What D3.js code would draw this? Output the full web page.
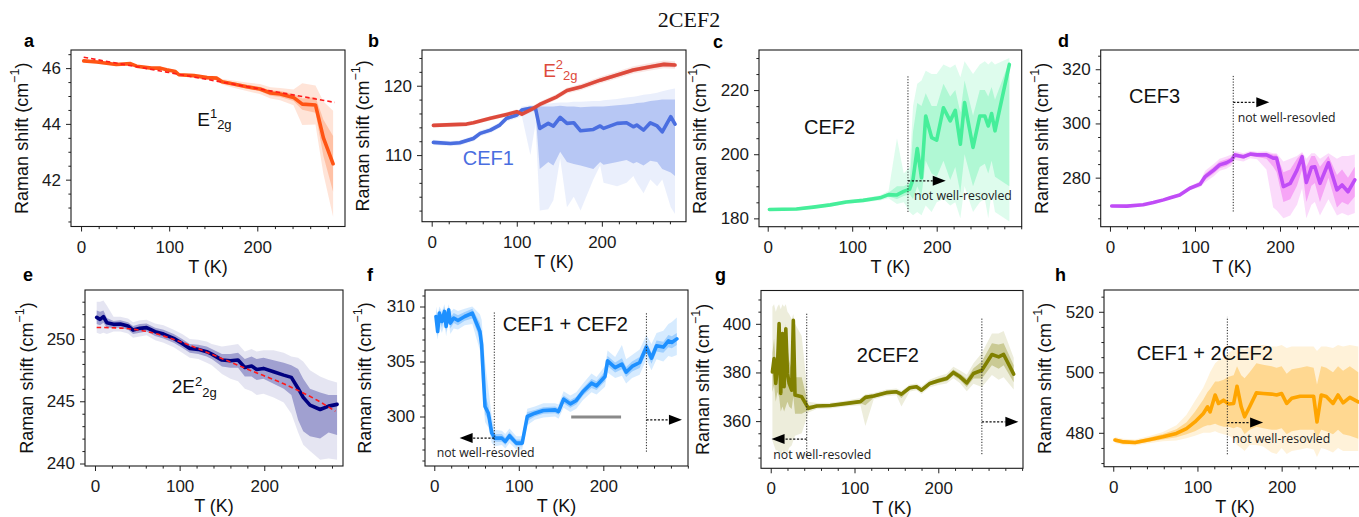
<!DOCTYPE html>
<html><head><meta charset="utf-8">
<script src="https://cdn.jsdelivr.net/npm/d3@7"></script>
<style>body{margin:0;background:#fff}svg{display:block}</style>
</head><body>
<svg id="chart" width="1359" height="517"></svg>
<script>
// ---------------- DATA ----------------
const title = "2CEF2";
const xMajorTicks = [0, 100, 200];
const xMinorStep = 20;

// a : E1_2g
const aT = [3,18,40,56,63,80,90,97,107,111,128,143,154,160,173,188,203,215,226,241,251,266,275,286];
const aV = [46.26,46.22,46.13,46.16,46.07,46.0,46.0,45.94,45.88,45.76,45.73,45.66,45.64,45.51,45.43,45.33,45.25,45.11,45.07,44.95,44.71,44.68,43.5,42.57];
const aInDev = [.03,.03,.03,.03,.03,.03,.03,.03,.03,.03,.03,.03,.04,.05,.06,.07,.08,.1,.11,.13,.2,.28,.65,1.0];
const aOutDev = [.05,.05,.05,.05,.05,.05,.05,.05,.05,.05,.07,.07,.08,.1,.13,.15,.18,.2,.22,.28,.75,.7,1.3,1.9];
const aFitT = [3,100,200,288];
const aFitV = [46.39,45.84,45.27,44.77];

// b : E2_2g (red) and CEF1 (blue)
const bRedT = [2,41,49,69,88,100,106,116,127,147,159,175,198,218,237,257,273,286];
const bRedV = [114.28,114.47,114.66,115.3,115.87,116.25,115.9,116.5,117.3,118.4,119.3,119.8,120.8,121.54,122.27,122.74,123.08,122.98];
const bRedInDev = [.15,.15,.15,.15,.15,.18,.18,.2,.2,.2,.22,.22,.25,.25,.28,.3,.3,.3];
const bRedOutDev = [.3,.3,.3,.3,.3,.35,.35,.4,.4,.4,.42,.45,.48,.5,.52,.55,.55,.55];
const bBlueT = [2,22,33,49,57,69,80,88,100,106,116,122,127,137,143,151,159,167,175,190,198,202,218,229,237,241,249,257,265,271,281,286];
const bBlueV = [111.83,111.68,111.78,112.4,113.13,113.6,114.33,115.3,115.77,116.5,116.74,116.74,113.85,114.57,114.18,115.44,114.57,114.66,113.5,113.7,114.2,113.85,114.57,114.66,114.08,114.33,113.6,114.66,114.2,113.36,115.53,114.47];
const bBlueInLo = [111.6,111.45,111.55,112.15,112.9,113.35,114.1,115.05,115.5,116.2,116.4,116.3,108.0,109.0,108.5,110.5,109.0,108.7,108.5,108.0,109.0,108.6,109.0,109.3,108.8,109.0,108.5,109.2,109.0,108.0,107.5,107.0];
const bBlueInHi = [112.05,111.9,112.0,112.65,113.35,113.85,114.55,115.55,116.05,116.8,117.0,117.0,117.0,117.0,117.0,117.1,117.0,117.0,116.9,117.0,117.0,117.0,117.2,117.3,117.4,117.5,117.6,117.8,117.9,118.0,118.0,118.0];
const bBlueOutLo = [111.45,111.3,111.4,112.0,112.7,113.2,113.9,114.85,115.3,115.6,110.0,114.5,102.0,102.2,103.5,109.5,102.5,104.0,102.0,106.5,108.5,106.0,105.5,106.0,107.0,106.0,104.5,106.5,105.5,106.5,102.5,101.5];
const bBlueOutHi = [112.2,112.05,112.15,112.8,113.55,114.0,114.75,115.75,116.25,117.0,117.2,117.2,117.3,117.4,117.5,117.6,117.6,117.7,117.7,117.8,117.8,117.9,118.1,118.3,118.4,118.5,118.7,118.8,119.0,119.2,119.5,119.6];

// c : CEF2
const cT = [2,34,54,74,93,113,133,143,153,161,168,172,177,182,187,194,200,208,216,222,228,233,243,251,257,261,265,269,286];
const cV = [182.77,182.9,183.5,184.2,185.1,185.6,186.4,187.4,187.3,188.4,189.1,192.2,201.8,192.7,211.9,205.2,204.4,214.5,210.4,213.7,203.1,216.1,202.1,211.9,211.9,208.8,212.7,207.3,228.0];
const cInLo = [182.5,182.6,183.2,183.9,184.8,185.3,186.0,186.8,186.0,187.0,187.5,186.0,190.0,187.0,198.0,194.0,193.0,198.0,192.0,196.0,188.0,200.0,190.0,196.0,197.0,194.0,198.0,193.0,190.0];
const cInHi = [183.05,183.2,183.8,184.5,185.4,185.9,186.8,188.0,190.0,190.0,191.0,207.0,216.0,215.0,219.0,215.0,215.0,222.0,218.0,220.0,213.0,223.0,212.0,220.0,220.0,218.0,221.0,217.0,229.0];
const cOutLo = [182.3,182.4,183.0,183.7,184.5,185.0,185.6,186.3,184.5,185.0,182.0,181.0,182.0,181.0,184.0,182.0,185.0,186.0,184.0,185.0,180.0,190.0,182.0,185.0,186.0,180.0,188.0,182.0,179.0];
const cOutHi = [183.25,183.4,184.0,184.7,185.7,186.2,187.2,188.5,205.0,194.0,196.0,215.0,222.0,223.0,226.0,225.0,225.0,228.0,227.0,228.0,224.0,229.0,225.0,228.0,229.0,228.0,229.0,228.0,230.0];

// d : CEF3
const dT = [2,20,39,51,63,71,82,94,106,112,122,129,137,143,147,157,165,173,184,192,196,204,212,220,226,231,237,241,247,257,267,273,280,288];
const dV = [269.56,269.5,270.0,270.8,271.8,272.6,273.6,276.1,277.6,280.4,282.8,284.7,285.5,286.5,288.4,287.7,288.7,288.4,288.4,287.2,287.2,276.7,277.9,282.8,287.7,278.2,283.8,284.0,277.9,285.5,275.5,277.3,274.8,279.2];
const dInLo = [269.3,269.25,269.7,270.5,271.5,272.3,273.3,275.7,277.0,279.2,281.5,283.5,284.3,285.5,287.5,287.0,288.0,287.6,287.0,284.0,282.0,271.0,272.0,277.0,283.0,271.0,277.0,278.0,271.0,280.0,269.0,271.0,270.0,273.0];
const dInHi = [269.8,269.75,270.3,271.1,272.1,272.9,273.9,276.5,278.3,281.5,284.0,286.0,286.8,287.5,289.2,288.4,289.3,289.1,289.2,288.5,288.5,282.0,283.0,287.0,289.0,284.0,288.0,288.0,284.0,288.0,281.0,283.0,280.0,284.0];
const dOutLo = [269.1,269.0,269.5,270.3,271.3,272.0,273.0,275.4,276.5,278.3,280.5,282.5,283.3,284.5,286.5,286.0,287.2,286.8,283.0,269.0,268.0,265.0,266.0,270.0,276.0,265.0,270.0,271.0,266.0,272.0,266.0,267.0,266.0,267.0];
const dOutHi = [270.0,270.0,270.5,271.3,272.3,273.2,274.2,276.8,278.8,282.5,285.0,287.0,287.8,288.5,289.8,289.0,289.8,289.6,289.7,289.0,289.0,286.0,287.0,288.0,289.5,287.0,289.0,289.0,287.0,289.0,287.0,288.0,288.0,288.5];

// e : 2E2_2g
const eT = [2,6,10,14,22,30,39,45,53,61,71,81,93,103,112,122,132,138,150,160,169,177,185,191,199,211,223,232,240,246,254,266,276,286];
const eV = [251.74,251.58,251.8,251.31,251.18,251.21,251.05,250.72,250.86,250.92,250.59,250.4,250.05,249.65,249.25,249.17,248.98,248.79,248.31,248.26,248.31,247.72,247.83,247.56,247.64,247.37,247.1,246.92,246.03,245.31,244.69,244.34,244.61,244.75];
const eInLo = [251.2,251.1,251.3,250.9,250.9,250.9,250.75,250.4,250.5,250.6,250.25,250.05,249.7,249.3,248.9,248.8,248.6,248.4,247.8,247.7,247.7,247.0,247.0,246.7,246.8,246.4,246.0,245.5,243.5,242.6,242.2,242.0,242.5,242.3];
const eInHi = [252.3,252.2,252.3,251.7,251.45,251.5,251.35,251.05,251.2,251.25,250.9,250.75,250.4,250.0,249.6,249.55,249.4,249.2,248.8,248.8,248.9,248.4,248.6,248.4,248.5,248.3,248.1,247.9,247.6,246.8,246.0,245.7,245.5,245.5];
const eOutLo = [250.5,250.4,250.5,250.4,250.6,250.6,250.45,250.1,250.2,250.3,249.9,249.7,249.35,248.9,248.5,248.4,248.1,247.9,247.2,246.8,246.6,246.0,245.8,245.5,245.6,245.3,244.9,244.0,242.5,241.5,241.0,240.3,240.4,240.3];
const eOutHi = [253.0,253.0,253.1,252.7,251.8,251.8,251.65,251.35,251.5,251.55,251.25,251.1,250.75,250.4,250.0,249.95,249.8,249.6,249.4,249.5,249.6,249.0,249.2,249.0,249.1,249.1,248.9,248.6,248.5,248.2,247.5,247.0,246.7,246.5];
const eFitT = [2,30,65,104,144,183,223,262,284];
const eFitV = [250.93,250.88,250.55,249.7,248.6,247.5,246.4,245.1,244.2];

// f : CEF1 + CEF2
const fT = [2,4,6,9,12,14,17,19,23,28,36,45,54,56,60,64,68,72,80,84,89,97,104,110,119,129,143,147,153,161,168,176,186,192,202,205,214,222,227,234,243,251,257,263,271,277,281,287];
const fV = [309.09,307.73,309.4,308.64,309.55,308.18,309.7,308.49,308.95,308.73,309.09,309.4,307.73,306.52,300.91,300.3,298.49,298.03,298.03,297.73,298.25,297.58,297.58,300.0,300.3,300.55,300.6,300.45,301.58,301.15,301.46,302.27,303.03,302.79,303.64,305.06,304.45,304.76,304.03,304.55,304.91,306.31,305.3,306.43,306.31,306.88,306.73,307.06];
const fInLo = [308.4,307.3,308.8,308.1,309.0,307.7,309.2,308.0,308.5,308.3,308.7,308.9,307.0,305.5,300.2,299.7,298.0,297.7,297.7,297.4,297.9,297.3,297.3,299.6,300.0,300.25,300.3,300.15,301.2,300.8,301.1,301.9,302.6,302.4,303.2,304.6,304.0,304.3,303.6,304.1,304.4,305.8,304.8,305.9,305.8,306.3,306.2,306.5];
const fInHi = [309.6,308.5,309.8,309.1,310.0,308.7,310.0,309.0,309.4,309.2,309.5,309.8,308.5,307.5,302.0,301.0,299.0,298.4,298.4,298.1,298.6,297.9,297.9,300.4,300.6,300.85,300.9,300.75,301.9,301.5,301.8,302.6,303.4,303.2,304.1,305.5,304.9,305.3,304.5,305.0,305.4,306.8,305.8,306.9,306.8,307.4,307.3,307.6];
const fOutLo = [307.8,307.0,308.2,307.6,308.4,307.3,308.6,307.5,308.0,307.9,308.3,308.4,306.0,303.5,299.5,299.0,297.6,297.3,297.4,297.1,297.6,297.0,297.0,299.2,299.7,299.9,300.0,299.8,300.8,300.4,300.7,301.5,302.2,302.0,302.7,304.0,303.5,303.7,303.0,303.5,303.8,305.2,304.2,305.2,305.0,305.5,305.4,305.6];
const fOutHi = [310.0,309.3,310.0,309.6,310.2,309.3,310.2,309.5,309.8,309.6,309.8,310.0,309.3,308.8,305.0,302.5,300.0,298.8,298.7,298.4,298.9,298.2,298.2,300.7,300.9,301.2,301.2,301.1,302.3,301.9,302.2,303.0,303.9,303.6,304.6,306.0,305.4,306.5,305.2,305.6,306.1,307.4,306.6,307.6,307.8,308.4,308.6,309.0];

// g : 2CEF2
const gT = [2,4,6,8,10,12,14,16,18,20,22,25,27,29,37,45,55,71,91,107,113,123,138,150,156,166,174,180,190,200,210,218,226,234,242,252,264,272,278,290];
const gV = [380.25,385.7,375.5,382,400.1,371.4,396,374.1,398.0,379.6,375.5,372.7,401.4,370.7,370.0,365.25,366.2,366.4,367.3,368.0,369.75,370.3,371.7,372.05,371.1,373.7,374.1,372.7,375.5,376.6,377.5,380,378.2,375.7,379.6,380.9,387.4,386.4,387.4,379.3];
const gInLo = [372,375,368,372,370,364,366,364,366,368,366,365,370,363,363,364.5,365.6,365.8,366.7,367.3,366.5,369.6,371.0,371.3,369.5,373.0,373.4,371.9,374.7,375.7,376.5,378.8,376.9,374.0,377.5,377.5,383,381.5,383,376];
const gInHi = [388,394,384,392,401,382,398,385,400,390,385,381,402,378,378,366.5,366.8,367.0,367.9,368.7,370.5,371.0,372.4,372.8,371.9,374.4,374.8,373.5,376.3,377.5,378.5,381.2,379.5,377.4,381.7,384.5,392,391.5,392,383];
const gOutLo = [352,350,348,348,347,346,348,346,348,347,349,350,352,354,355,363.5,365,365.2,366.1,366.5,358,369.0,370.3,370.6,366,372.2,372.7,371.1,373.9,374.8,375.5,377.6,375.6,372.3,375.4,374,379,377,378,373];
const gOutHi = [407,408,405,407,408,406,408,407,408,405,404,402,404,400,395,368,367.4,367.6,368.5,369.5,371,371.6,373.0,373.4,372.5,375.1,375.5,374.3,377.1,378.4,379.5,382.4,380.8,379.1,383.8,388,396,396,397,386];

// h : CEF1 + 2CEF2
const hT = [2,12,26,44,59,75,87,97,107,112,115,121,125,131,137,143,147,152,156,162,170,178,188,194,200,206,212,222,230,238,242,247,253,261,267,273,281,291];
const hV = [477.6,477.0,476.8,477.8,478.7,479.8,481.4,483.6,486.4,488.6,486.9,492.5,489.7,490.8,489.5,489.7,495.4,488.6,485.3,488.6,493.2,493.0,492.8,492.5,493.0,489.7,491.4,492.1,492.1,492.1,483.6,492.5,492.0,489.7,492.5,489.9,491.7,490.2];
const hInLo = [477.0,476.4,476.2,477.1,477.8,478.5,479.5,480.5,482.0,482.5,482.5,483.0,482.5,482.0,482.0,481.5,482.0,481.5,479.5,481.0,482.0,481.5,481.0,481.0,481.5,479.5,480.5,481.0,481.0,481.0,478.0,481.0,480.5,479.5,481.0,479.5,479.0,478.0];
const hInHi = [478.2,477.6,477.4,478.5,479.6,481.2,483.5,487.0,491.0,493.5,494.5,497.0,497.0,497.5,498.5,499.0,502.0,499.0,498.0,500.0,503.0,502.5,502.0,501.5,502.0,499.5,501.0,501.5,502.0,501.5,496.0,502.0,501.5,500.0,502.0,500.5,502.0,500.0];
const hOutLo = [476.6,476.0,475.8,476.6,477.2,477.5,478.2,479.0,480.0,480.0,480.0,480.5,480.0,479.5,479.0,478.0,476.0,475.0,474.0,476.0,476.0,475.5,473.5,473.0,475.0,473.0,474.0,474.5,475.0,474.5,472.0,475.0,474.5,473.5,475.0,474.0,474.0,474.0];
const hOutHi = [478.6,478.0,477.8,479.0,480.3,482.5,486.0,490.5,495.0,498.0,500.0,503.0,504.0,505.0,506.5,507.5,508.5,508.0,507.5,508.5,509.0,509.0,508.5,508.5,509.0,508.0,508.5,508.5,508.5,508.5,507.0,508.5,508.5,508.0,509.0,508.5,509.0,508.5];

// ---------------- LAYOUT / STYLE ----------------
const SANS = "'Liberation Sans', Arial, Helvetica, sans-serif";
const NOTE = "'Open Sans', 'DejaVu Sans', sans-serif";
const svg = d3.select('#chart');

const panels = {
  a:{box:[71,50,345,226.5], xd:[-11.4,299.5], yd:[40.32,46.65], yMaj:[42,44,46], yStep:0.5, ylabX:21.7, letter:[24,46.7]},
  b:{box:[422,50,686,221.7], xd:[-11.4,298.9], yd:[100.4,125.15], yMaj:[110,120], yStep:2, ylabX:363.3, letter:[368,46.7]},
  c:{box:[759,50,1021.7,226.7], xd:[-10.3,300.6], yd:[177.4,232.5], yMaj:[180,200,220], yStep:5, ylabX:700, letter:[713,47.5]},
  d:{box:[1100.7,50,1363.4,226.7], xd:[-10.9,298.1], yd:[261.9,327.1], yMaj:[280,300,320], yStep:5, ylabX:1041.7, letter:[1058,47]},
  e:{box:[85,290,343,466], xd:[-11.8,293], yd:[239.8,253.94], yMaj:[240,245,250], yStep:1, ylabX:26.7, letter:[23,280.7]},
  f:{box:[425,290,688,466], xd:[-11,300.2], yd:[295.5,311.5], yMaj:[300,305,310], yStep:1, ylabX:365, letter:[367,280.7]},
  g:{box:[761,290.5,1023,468.3], xd:[-11.6,301.1], yd:[340.6,413.7], yMaj:[360,380,400], yStep:5, ylabX:703.3, letter:[715,281]},
  h:{box:[1104,290,1366,466.7], xd:[-11,300.2], yd:[468.8,527.2], yMaj:[480,500,520], yStep:5, ylabX:1045, letter:[1055,280.7]}
};

function devBand(V, dev){ return [V.map((v,i)=>v-dev[i]), V.map((v,i)=>v+dev[i])]; }

function setup(id){
  const p = panels[id];
  const [l,t,r,b] = p.box;
  const x = d3.scaleLinear().domain(p.xd).range([l,r]);
  const y = d3.scaleLinear().domain(p.yd).range([b,t]);
  const g = svg.append('g');
  svg.append('clipPath').attr('id','clip-'+id).append('rect').attr('x',l).attr('y',t).attr('width',r-l).attr('height',b-t);
  const plot = g.append('g').attr('clip-path',`url(#clip-${id})`);
  return {id,p,x,y,g,plot};
}

function series(P, T, V, inLo, inHi, outLo, outHi, color, bandColor, aOut, aIn){
  const {x,y,plot} = P;
  const area = (lo,hi)=>d3.area().x(d=>x(d)).y0((d,i)=>y(lo[i])).y1((d,i)=>y(hi[i]))(T);
  plot.append('path').attr('d',area(outLo,outHi)).attr('fill',bandColor).attr('fill-opacity',aOut);
  plot.append('path').attr('d',area(inLo,inHi)).attr('fill',bandColor).attr('fill-opacity',aIn);
  plot.append('path').attr('d',d3.line().x(d=>x(d)).y((d,i)=>y(V[i]))(T))
    .attr('fill','none').attr('stroke',color).attr('stroke-width',3.6)
    .attr('stroke-linejoin','round').attr('stroke-linecap','round');
}

function fitLine(P, T, V){
  P.plot.append('path').attr('d',d3.line().curve(d3.curveMonotoneX).x(d=>P.x(d)).y((d,i)=>P.y(V[i]))(T))
    .attr('fill','none').attr('stroke','#ff1a1a').attr('stroke-width',1.6).attr('stroke-dasharray','4.5,3');
}

function vDotted(P, T, v0, v1){
  P.g.append('line').attr('x1',P.x(T)).attr('x2',P.x(T)).attr('y1',P.y(v0)).attr('y2',P.y(v1))
    .attr('stroke','#222').attr('stroke-width',1).attr('stroke-dasharray','1.2,1.6');
}

function arrow(P, T0, T1, v){
  const x0=P.x(T0), x1=P.x(T1), yy=P.y(v);
  const dir = Math.sign(x1-x0), L=13, H=5;
  P.g.append('line').attr('x1',x0).attr('x2',x1-dir*L).attr('y1',yy).attr('y2',yy)
    .attr('stroke','#111').attr('stroke-width',1.2).attr('stroke-dasharray','2.2,1.6');
  P.g.append('path').attr('d',`M${x1},${yy}L${x1-dir*L},${yy-H}L${x1-dir*L},${yy+H}Z`).attr('fill','#000');
}

function note(P, T, v, txt){
  P.g.append('text').attr('x',P.x(T)).attr('y',P.y(v)).attr('font-family',NOTE).attr('font-size',12.3)
    .attr('fill','#222').text(txt);
}

function label(P, T, v, txt, color, size){
  P.g.append('text').attr('x',P.x(T)).attr('y',P.y(v)).attr('font-family',SANS).attr('font-size',size||20)
    .attr('fill',color||'#111').text(txt);
}

function mathLabel(P, T, v, base, sup, sub, color){
  const t = P.g.append('text').attr('x',P.x(T)).attr('y',P.y(v)).attr('font-family',SANS).attr('fill',color||'#111');
  t.append('tspan').attr('font-size',19).text(base);
  t.append('tspan').attr('font-size',13).attr('dy',-7.5).text(sup);
  t.append('tspan').attr('font-size',13).attr('dy',11).text(sub);
}

function axes(P){
  const {id,p,x,y,g} = P;
  const [l,t,r,b] = p.box;
  const xMinor = d3.range(0, 301, xMinorStep).filter(v=>!xMajorTicks.includes(v) && v>=p.xd[0] && v<=p.xd[1]);
  const y0 = Math.ceil(p.yd[0]/p.yStep - 1e-9), y1 = Math.floor(p.yd[1]/p.yStep + 1e-9);
  const yMinor = d3.range(y0, y1+1).map(k=>+(k*p.yStep).toFixed(3)).filter(v=>!p.yMaj.includes(v));
  const style = sel => { sel.select('.domain').remove(); sel.attr('font-family',SANS).attr('font-size',17);
    sel.selectAll('line').attr('stroke','#222').attr('stroke-width',1); sel.selectAll('text').attr('fill','#1a1a1a'); };
  g.append('g').attr('transform',`translate(0,${b})`).call(d3.axisBottom(x).tickValues(xMajorTicks).tickSize(5).tickPadding(9).tickFormat(d3.format('d'))).call(style);
  g.append('g').attr('transform',`translate(0,${b})`).call(d3.axisBottom(x).tickValues(xMinor).tickSize(2.6).tickFormat('')).call(style);
  g.append('g').attr('transform',`translate(${l},0)`).call(d3.axisLeft(y).tickValues(p.yMaj).tickSize(5).tickPadding(5).tickFormat(d3.format('d'))).call(style);
  g.append('g').attr('transform',`translate(${l},0)`).call(d3.axisLeft(y).tickValues(yMinor).tickSize(2.6).tickFormat('')).call(style);
  g.append('rect').attr('x',l).attr('y',t).attr('width',r-l).attr('height',b-t)
    .attr('fill','none').attr('stroke','#1a1a1a').attr('stroke-width',1.1);
  // axis labels
  g.append('text').attr('x',(l+r)/2).attr('y',b+46).attr('text-anchor','middle')
    .attr('font-family',SANS).attr('font-size',18).attr('fill','#111').text('T (K)');
  const yl = g.append('text').attr('transform',`translate(${p.ylabX},${(t+b)/2}) rotate(-90)`)
    .attr('text-anchor','middle').attr('dominant-baseline','central').attr('font-family',SANS).attr('font-size',18).attr('fill','#111');
  yl.append('tspan').text('Raman shift (cm');
  yl.append('tspan').attr('font-size',12.5).attr('dy',-7).text('\u22121');
  yl.append('tspan').attr('dy',7).text(')');
  g.append('text').attr('x',p.letter[0]).attr('y',p.letter[1]).attr('font-family',SANS)
    .attr('font-weight','bold').attr('font-size',18).attr('fill','#000').text(id);
}

// title
svg.append('text').attr('x',689).attr('y',27).attr('text-anchor','middle')
  .attr('font-family',"'Liberation Serif','Times New Roman',serif").attr('font-size',22).attr('fill','#111').text(title);

// ---- a ----
{
  const P = setup('a');
  const [il,ih] = devBand(aV,aInDev), [ol,oh] = devBand(aV,aOutDev);
  series(P, aT, aV, il, ih, ol, oh, '#ff5414', '#ff7a3c', 0.2, 0.33);
  fitLine(P, aFitT, aFitV);
  mathLabel(P, 131.8, 43.94, 'E', '1', '2g');
  axes(P);
}
// ---- b ----
{
  const P = setup('b');
  series(P, bBlueT, bBlueV, bBlueInLo, bBlueInHi, bBlueOutLo, bBlueOutHi, '#4a6ee0', '#4169e1', 0.11, 0.3);
  const [il,ih] = devBand(bRedV,bRedInDev), [ol,oh] = devBand(bRedV,bRedOutDev);
  series(P, bRedT, bRedV, il, ih, ol, oh, '#dd4a3c', '#e05a4c', 0.15, 0.3);
  mathLabel(P, 131, 121.3, 'E', '2', '2g', '#dd4a3c');
  label(P, 36.5, 108.56, 'CEF1', '#4a6ee0');
  axes(P);
}
// ---- c ----
{
  const P = setup('c');
  series(P, cT, cV, cInLo, cInHi, cOutLo, cOutHi, '#46ee9a', '#46ee9a', 0.18, 0.3);
  vDotted(P, 166, 182.0, 224.7);
  arrow(P, 166, 210.7, 191.7);
  note(P, 173, 185.7, 'not well-resovled');
  label(P, 43, 206.4, 'CEF2');
  axes(P);
}
// ---- d ----
{
  const P = setup('d');
  series(P, dT, dV, dInLo, dInHi, dOutLo, dOutHi, '#c04cf6', '#ee5aee', 0.22, 0.42);
  vDotted(P, 145, 267.5, 317.9);
  arrow(P, 145, 187.4, 307.8);
  note(P, 150.2, 300.7, 'not well-resovled');
  label(P, 22.4, 307.5, 'CEF3');
  axes(P);
}
// ---- e ----
{
  const P = setup('e');
  series(P, eT, eV, eInLo, eInHi, eOutLo, eOutHi, '#000080', '#000080', 0.1, 0.3);
  fitLine(P, eFitT, eFitV);
  mathLabel(P, 90.6, 245.63, '2E', '2', '2g');
  axes(P);
}
// ---- f ----
{
  const P = setup('f');
  series(P, fT, fV, fInLo, fInHi, fOutLo, fOutHi, '#1e90ff', '#1e90ff', 0.18, 0.3);
  vDotted(P, 71, 297.13, 309.55);
  vDotted(P, 251, 296.8, 309.4);
  arrow(P, 71, 30, 298.04);
  arrow(P, 251, 293, 299.7);
  note(P, 2.8, 296.36, 'not well-resovled');
  P.g.append('line').attr('x1',P.x(162)).attr('x2',P.x(221)).attr('y1',P.y(299.95)).attr('y2',P.y(299.95))
    .attr('stroke','#8a8a8a').attr('stroke-width',3);
  label(P, 81, 307.8, 'CEF1 + CEF2');
  axes(P);
}
// ---- g ----
{
  const P = setup('g');
  series(P, gT, gV, gInLo, gInHi, gOutLo, gOutHi, '#808000', '#808000', 0.14, 0.32);
  vDotted(P, 43, 346.1, 404.75);
  vDotted(P, 252, 346.4, 402.7);
  arrow(P, 43, 1, 352.6);
  arrow(P, 252, 295.6, 359.7);
  note(P, 3.1, 344.4, 'not well-resovled');
  label(P, 102.6, 384.3, '2CEF2');
  axes(P);
}
// ---- h ----
{
  const P = setup('h');
  series(P, hT, hV, hInLo, hInHi, hOutLo, hOutHi, '#ffa500', '#ffa500', 0.15, 0.33);
  vDotted(P, 135.5, 472.9, 518.3);
  arrow(P, 135.5, 178, 483.4);
  note(P, 141.3, 476.7, 'not well-resovled');
  label(P, 27.8, 503.9, 'CEF1 + 2CEF2');
  axes(P);
}
</script>
</body></html>
